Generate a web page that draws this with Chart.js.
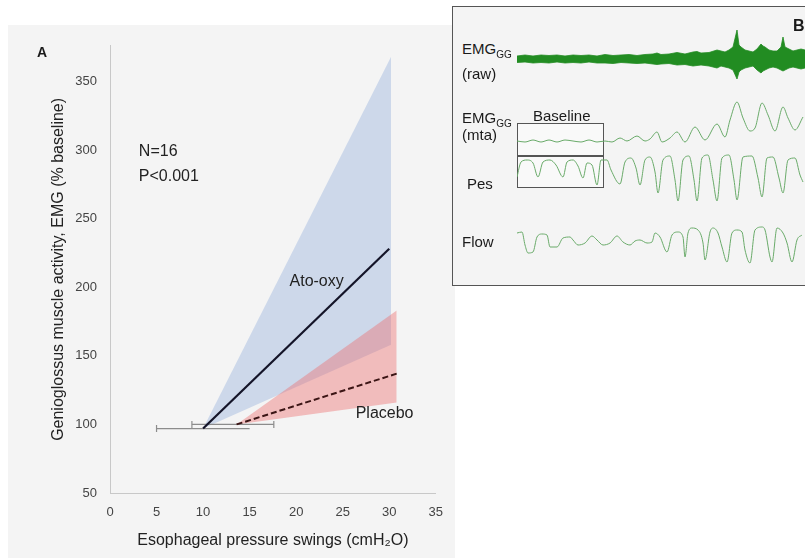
<!DOCTYPE html>
<html>
<head>
<meta charset="utf-8">
<script src="https://cdn.jsdelivr.net/npm/chart.js@4.4.1/dist/chart.umd.min.js"></script>
<style>
  body { margin: 0; width: 805px; height: 558px; background: #fff; position: relative; overflow: hidden;
         font-family: "Liberation Sans", Arial, sans-serif; color: #1a1a1a; }
  #panelA { position: absolute; left: 8px; top: 25px; width: 447px; height: 533px; background: #f4f4f4; }
  #panelB { position: absolute; left: 452px; top: 6px; width: 380px; height: 280px; background: #f4f4f4;
            border: 1.5px solid #555; box-sizing: border-box; }
  #chartB { position: absolute; left: 517px; top: 28px; }
  .lbl { position: absolute; font-size: 15px; line-height: 15px; white-space: nowrap; }
  .sub { font-size: 10px; position: relative; top: 4px; }
  .box { position: absolute; border: 1.5px solid #555; box-sizing: border-box; background: rgba(255,255,255,0.45); }
</style>
</head>
<body>
<div id="panelA"><canvas id="chartA" width="447" height="533"></canvas></div>
<div class="lbl" style="left:37px; top:45px; font-weight:bold; font-size:14px;">A</div>

<div id="panelB"></div>
<div class="box" style="left:517px; top:123px; width:87px; height:33px;"></div>
<div class="box" style="left:517px; top:156px; width:87px; height:32px;"></div>
<canvas id="chartB" width="288" height="244"></canvas>
<div class="lbl" style="left:462px; top:41px;">EMG<span class="sub">GG</span></div>
<div class="lbl" style="left:462px; top:66px;">(raw)</div>
<div class="lbl" style="left:462px; top:110px;">EMG<span class="sub">GG</span></div>
<div class="lbl" style="left:462px; top:127px;">(mta)</div>
<div class="lbl" style="left:533px; top:108px;">Baseline</div>
<div class="lbl" style="left:467px; top:176px;">Pes</div>
<div class="lbl" style="left:462px; top:234px;">Flow</div>
<div class="lbl" style="left:793px; top:18px; font-weight:bold; font-size:16px;">B</div>

<script>
// ---- panel A: regression lines with confidence bands ----
const atoOxyX = [10, 30];
const atoOxyY = [97, 228];
const placeboX = [13.6, 30.8];
const placeboY = [100, 137];

const atoBandX = [10, 30.2];
const atoBandUpper = [97, 368];
const atoBandLower = [97, 158];
const placeboBandX = [13.6, 30.8];
const placeboBandUpper = [100, 183];
const placeboBandLower = [100, 116];

// horizontal error bars (pressure swings at baseline)
const atoErrX = [5, 15];
const atoErrY = [97, 97];
const placeboErrX = [8.8, 17.6];
const placeboErrY = [100, 100];

// ---- panel B: example traces (time in s, arbitrary units) ----
const rawT = [0,2,4,6,8,10,12,14,16,18,20,22,24,26,28,30,32,34,35,36,38,40,42,44,45,46,48,50,51,52,53,54,55,55.5,56,57,58,59,60,61,61.5,62,63,64,65,66,66.5,67,68,69,70,71,72];
const rawUpper = [3,4,3,4,3.5,4,3,4,3.5,4,3,4.5,3.5,4,4.5,3.5,4.5,5,
  6,4.5,5,6.5,5,7,7.5,6,6.5,9,
  8,7,9,12,29,14,12,9,8,7,
  10,15,13,12,9,8,8,12,22,12,
  10,8,9,10,9];
const rawLower = [-3.5,-3,-4,-3.5,-4,-3,-4,-3.5,-4,-3,-4,-4,-4.5,-3.5,-4,-4.5,-4,-5,
  -5.5,-5,-4.5,-6,-5.5,-7,-6.5,-6,-7,-9,
  -7,-8,-9,-11,-20,-13,-11,-9,-8,-7,
  -11,-14,-12,-11,-9,-8,-9,-11,-12,-11,
  -9,-8,-9,-10,-9];

const mtaT = [0,2,4,6,8,10,12,14,16,18,20,22,23.75,25.75,27.5,30,32,33.25,35,36.25,38.25,40,42,44.5,47,50,52,53.25,55,56.5,58.25,59.5,61.25,62.75,64.5,66.5,67.75,69.5,71.5];
const mtaV = [9,8,10,8,10,8,10,9,8,10,8,9,8,12,9,14,9,11,18,8,12,18,8,23,10,26,13,30,48,32,19,22,47,35,19,43,32,20,33];

const pesT = [0,1,2.5,4,5.25,6.5,8.25,9.75,11.5,12.5,14,15.25,16.5,17.5,18.75,20,21,22.5,23.5,25.75,27,28.5,29.75,30.75,32,33.25,34.5,35.25,36.5,38.25,39.5,40.25,41.5,43,44.25,45,46.25,47.75,49,50,51.25,53,54.25,55,56.5,58.75,60.25,61.25,62.5,64,65.5,66.5,67.75,69.5,70.75,71.5];
const pesV = [23,38,40,37,23,38,40,35,23,38,40,34,22,37,35,15,40,40,30,16,38,42,32,15,40,43,28,7,40,44,20,-1,40,44,20,-1,42,45,20,-1,42,45,20,0,43,44,22,3,42,43,22,7,40,42,25,18];

const flowT = [0,1.25,2,2.75,4,5,6.25,7.5,8.25,10,11.5,13.25,14,15.25,17,18.75,20,21.5,23.25,25,26.5,28.25,29.5,30.75,32.5,33.75,34.5,35.75,37.5,38.75,40.25,41.5,42,42.75,43.75,45.25,46.5,47,48.25,49,50.25,51.25,52.5,53.75,55,56.25,57,58.25,59.5,61.25,62,63.25,63.75,65,66.5,67.5,68.75,70,71.25];
const flowV = [32,33,20,12,13,28,31,30,18,18,27,28,25,20,22,29,25,20,22,29,23,20,24,25,22,23,32,28,13,30,33,28,8,32,37,35,22,5,33,37,32,18,3,32,35,33,15,2,35,38,35,8,3,37,32,22,3,25,30];

const pts = (xs, ys) => xs.map((x, i) => ({ x: x, y: ys[i] }));

const textA = '#222';
const fontA = '"Liberation Sans", Arial, sans-serif';

// text labels inside the plot
const notesPlugin = {
  id: 'notes',
  afterDatasetsDraw(chart) {
    const { ctx, scales } = chart;
    const notes = [
      { t: 'N=16', x: 3.1, y: 299, a: 'left' },
      { t: 'P<0.001', x: 3.1, y: 281, a: 'left' },
      { t: 'Ato-oxy', x: 22.2, y: 204, a: 'center' },
      { t: 'Placebo', x: 29.5, y: 108, a: 'center' }
    ];
    ctx.save();
    ctx.fillStyle = textA;
    ctx.font = '16px ' + fontA;
    ctx.textBaseline = 'middle';
    notes.forEach(n => {
      ctx.textAlign = n.a;
      ctx.fillText(n.t, scales.x.getPixelForValue(n.x), scales.y.getPixelForValue(n.y));
    });
    ctx.restore();
  }
};

new Chart(document.getElementById('chartA'), {
  type: 'scatter',
  data: {
    datasets: [
      { data: pts(atoOxyX, atoOxyY), showLine: true, borderColor: '#141428', borderWidth: 2.2, pointRadius: 0 },
      { data: pts(placeboX, placeboY), showLine: true, borderColor: '#3b1515', borderWidth: 2, borderDash: [6, 3], pointRadius: 0 },
      { data: pts(atoErrX, atoErrY), showLine: true, borderColor: '#8c8c8c', borderWidth: 1.2,
        pointStyle: 'line', rotation: 90, pointRadius: [3.5, 0], pointBorderColor: '#8c8c8c', pointBorderWidth: 1.2 },
      { data: pts(placeboErrX, placeboErrY), showLine: true, borderColor: '#8c8c8c', borderWidth: 1.2,
        pointStyle: 'line', rotation: 90, pointRadius: 3.5, pointBorderColor: '#8c8c8c', pointBorderWidth: 1.2 },
      { data: pts(placeboBandX, placeboBandUpper), showLine: true, borderWidth: 0, pointRadius: 0,
        fill: '+1', backgroundColor: 'rgba(236,110,110,0.42)' },
      { data: pts(placeboBandX, placeboBandLower), showLine: true, borderWidth: 0, pointRadius: 0 },
      { data: pts(atoBandX, atoBandUpper), showLine: true, borderWidth: 0, pointRadius: 0,
        fill: '+1', backgroundColor: '#cdd8ea' },
      { data: pts(atoBandX, atoBandLower), showLine: true, borderWidth: 0, pointRadius: 0 }
    ]
  },
  options: {
    responsive: false,
    animation: false,
    events: [],
    layout: { padding: { left: 0, right: 10, top: 19, bottom: 0 } },
    plugins: { legend: { display: false }, tooltip: { enabled: false } },
    scales: {
      x: {
        type: 'linear', min: 0, max: 35,
        ticks: { stepSize: 5, padding: 12, color: '#444', font: { size: 13, family: fontA } },
        grid: { display: false, drawTicks: false },
        border: { color: '#c8c8c8' },
        title: { display: true, text: 'Esophageal pressure swings (cmH₂O)', color: textA,
                 font: { size: 16, family: fontA }, padding: { top: 0, bottom: 8 } },
        afterFit: s => { s.height = 65; }
      },
      y: {
        min: 50, max: 376,
        ticks: { stepSize: 50, padding: 13, color: '#444', font: { size: 13, family: fontA },
                 callback: v => (v % 50 === 0 ? v : null) },
        grid: { display: false, drawTicks: false },
        border: { color: '#c8c8c8' },
        title: { display: true, text: 'Genioglossus muscle activity, EMG (% baseline)', color: textA,
                 font: { size: 16, family: fontA }, padding: { top: 41, bottom: 0 } },
        afterFit: s => { s.width = 102; }
      }
    }
  },
  plugins: [notesPlugin]
});

// ---- panel B ----
const traceGreen = 'rgb(105,170,105)';
const traceLine = (xs, ys, axis) => ({
  data: pts(xs, ys), yAxisID: axis, showLine: true, borderColor: traceGreen,
  borderWidth: 1, pointRadius: 0, cubicInterpolationMode: 'monotone'
});

new Chart(document.getElementById('chartB'), {
  type: 'scatter',
  data: {
    datasets: [
      { data: pts(rawT, rawUpper), yAxisID: 'yRaw', showLine: true, borderWidth: 0.8, borderColor: '#228c22',
        pointRadius: 0, fill: '+1', backgroundColor: '#228c22' },
      { data: pts(rawT, rawLower), yAxisID: 'yRaw', showLine: true, borderWidth: 0.8, borderColor: '#228c22', pointRadius: 0 },
      traceLine(mtaT, mtaV, 'yMta'),
      traceLine(pesT, pesV, 'yPes'),
      traceLine(flowT, flowV, 'yFlow')
    ]
  },
  options: {
    responsive: false,
    animation: false,
    events: [],
    layout: { padding: 0 },
    plugins: { legend: { display: false }, tooltip: { enabled: false } },
    scales: {
      x: { type: 'linear', min: 0, max: 72, display: false },
      // stacked axes are laid out bottom-up in the order they are listed
      yFlow: { min: -7, max: 57, display: false, position: 'left', stack: 'traces', stackWeight: 64 },
      yPes: { min: -8, max: 50, display: false, position: 'left', stack: 'traces', stackWeight: 58 },
      yMta: { min: 0, max: 58, display: false, position: 'left', stack: 'traces', stackWeight: 58 },
      yRaw: { min: -33, max: 31, display: false, position: 'left', stack: 'traces', stackWeight: 64 }
    }
  }
});
</script>
</body>
</html>
